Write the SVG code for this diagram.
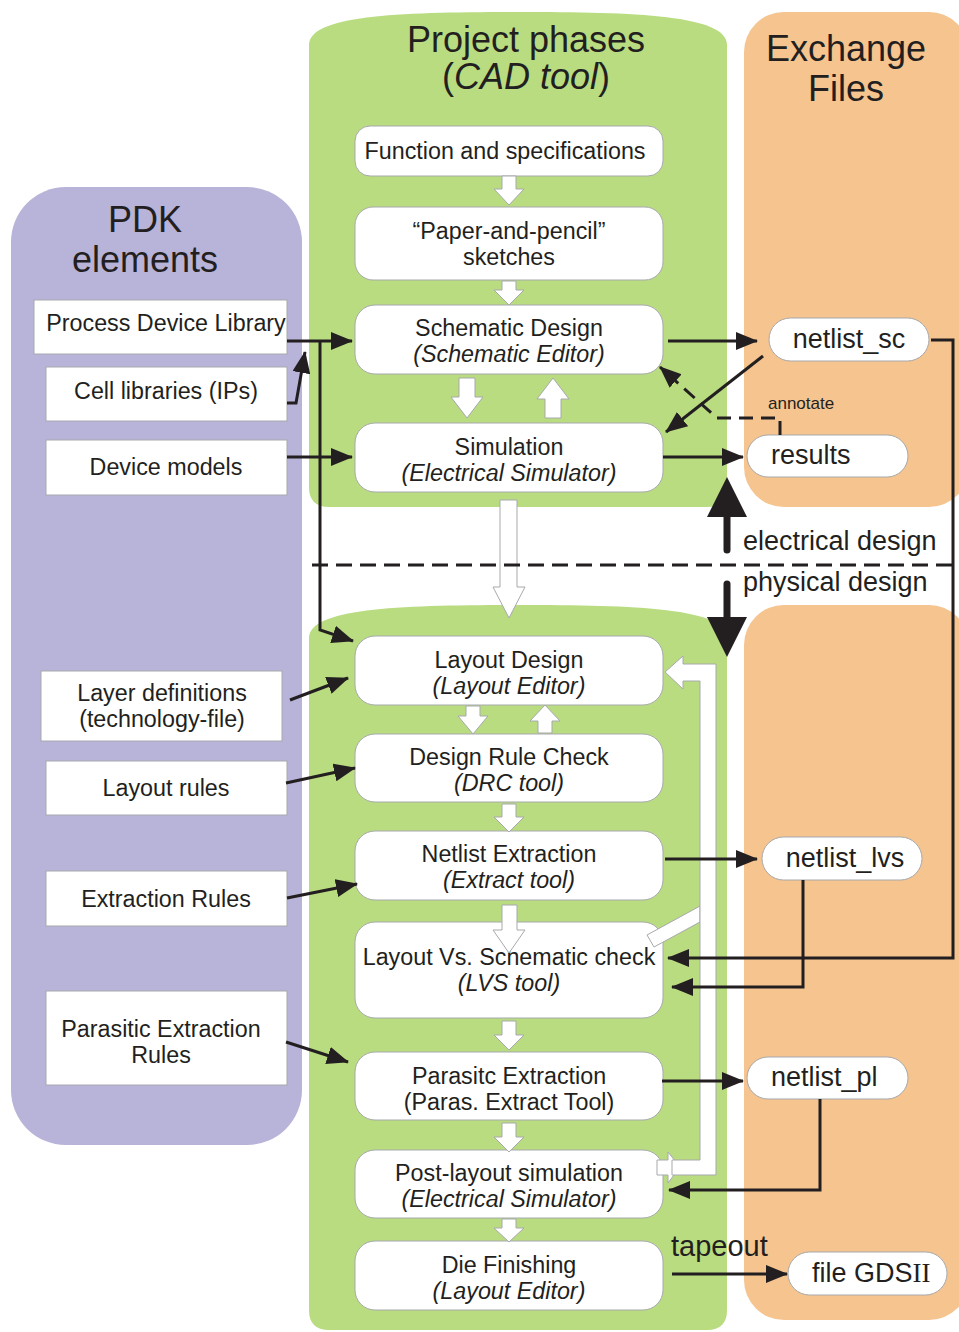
<svg xmlns="http://www.w3.org/2000/svg" width="959" height="1332" viewBox="0 0 959 1332">
<style>
text{font-family:"Liberation Sans",Arial,sans-serif;fill:#231f20}
.t{font-size:23.3px;text-anchor:middle}
.i{font-style:italic}
.h{font-size:36px;text-anchor:middle}
.n{font-size:27px}
.box{fill:#fff;stroke:#a7a9ac;stroke-width:1}
.blk{fill:#fff;stroke:#a7a9ac;stroke-width:1}
.ln{fill:none;stroke:#231f20;stroke-width:3}
.ar{fill:none;stroke:#231f20;stroke-width:3;marker-end:url(#ah)}
</style>
<defs>
<marker id="ah" markerUnits="userSpaceOnUse" markerWidth="22" markerHeight="18" viewBox="0 0 22 18" refX="21" refY="9" orient="auto">
<path d="M0,0 L22,9 L0,18 z" fill="#231f20"/>
</marker>
</defs>
<rect width="959" height="1332" fill="#fff"/>
<g id="panels">
<rect x="11" y="187" width="291" height="958" rx="55" fill="#b8b3d8"/>
<path d="M309,45 C309,15 400,12 518,12 C636,12 727,15 727,45 L727,487 Q727,507 707,507 L329,507 Q309,507 309,487 Z" fill="#b9dc80"/>
<path d="M309,638 C309,608 400,605 518,605 C636,605 727,608 727,638 L727,1310 Q727,1330 707,1330 L329,1330 Q309,1330 309,1310 Z" fill="#b9dc80"/>
<rect x="744" y="12" width="225" height="495" rx="40" fill="#f5c48f"/>
<rect x="744" y="605" width="225" height="715" rx="40" fill="#f5c48f"/>
</g>
<g id="titles">
<text class="h" x="526" y="52">Project phases</text>
<text class="h" x="526" y="89">(<tspan class="i">CAD tool</tspan>)</text>
<text class="h" x="846" y="61">Exchange</text>
<text class="h" x="846" y="101">Files</text>
<text class="h" x="145" y="232">PDK</text>
<text class="h" x="145" y="272">elements</text>
</g>
<g id="pdk">
<g id="pdl"><rect class="box" x="34" y="300" width="253" height="54"/><text class="t" x="166" y="331">Process Device Library</text></g>
<g id="cells"><rect class="box" x="46" y="367" width="241" height="54"/><text class="t" x="166" y="399">Cell libraries (IPs)</text></g>
<g id="models"><rect class="box" x="46" y="440" width="241" height="55"/><text class="t" x="166" y="475">Device models</text></g>
<g id="layerdef"><rect class="box" x="41" y="671" width="241" height="70"/><text class="t" x="162" y="701">Layer definitions</text><text class="t" x="162" y="727">(technology-file)</text></g>
<g id="layoutrules"><rect class="box" x="46" y="761" width="241" height="54"/><text class="t" x="166" y="796">Layout rules</text></g>
<g id="extrules"><rect class="box" x="46" y="871" width="241" height="55"/><text class="t" x="166" y="907">Extraction Rules</text></g>
<g id="parrules"><rect class="box" x="46" y="991" width="241" height="94"/><text class="t" x="161" y="1037">Parasitic Extraction</text><text class="t" x="161" y="1063">Rules</text></g>
</g>
<g id="phases">
<g id="func"><rect class="box" x="355" y="126" width="308" height="50" rx="15"/><text class="t" x="505" y="159">Function and specifications</text></g>
<g id="paper"><rect class="box" x="355" y="207" width="308" height="73" rx="18"/><text class="t" x="509" y="239">“Paper-and-pencil”</text><text class="t" x="509" y="265">sketches</text></g>
<g id="schem"><rect class="box" x="355" y="305" width="308" height="69" rx="20"/><text class="t" x="509" y="336">Schematic Design</text><text class="t i" x="509" y="362">(Schematic Editor)</text></g>
<g id="sim"><rect class="box" x="355" y="423" width="308" height="69" rx="20"/><text class="t" x="509" y="455">Simulation</text><text class="t i" x="509" y="481">(Electrical Simulator)</text></g>
<g id="layout"><rect class="box" x="355" y="636" width="308" height="69" rx="20"/><text class="t" x="509" y="668">Layout Design</text><text class="t i" x="509" y="694">(Layout Editor)</text></g>
<g id="drc"><rect class="box" x="355" y="734" width="308" height="68" rx="20"/><text class="t" x="509" y="765">Design Rule Check</text><text class="t i" x="509" y="791">(DRC tool)</text></g>
<g id="extract"><rect class="box" x="355" y="831" width="308" height="69" rx="20"/><text class="t" x="509" y="862">Netlist Extraction</text><text class="t i" x="509" y="888">(Extract tool)</text></g>
<g id="lvs"><rect class="box" x="355" y="922" width="308" height="96" rx="20"/><text class="t" x="509" y="965">Layout Vs. Schematic check</text><text class="t i" x="509" y="991">(LVS tool)</text></g>
<g id="parasitic"><rect class="box" x="355" y="1052" width="308" height="68" rx="20"/><text class="t" x="509" y="1084">Parasitc Extraction</text><text class="t" x="509" y="1110">(Paras. Extract Tool)</text></g>
<g id="postsim"><rect class="box" x="355" y="1150" width="308" height="68" rx="20"/><text class="t" x="509" y="1181">Post-layout simulation</text><text class="t i" x="509" y="1207">(Electrical Simulator)</text></g>
<g id="die"><rect class="box" x="355" y="1241" width="308" height="69" rx="20"/><text class="t" x="509" y="1273">Die Finishing</text><text class="t i" x="509" y="1299">(Layout Editor)</text></g>
</g>
<g id="files">
<g id="netlist_sc"><rect class="box" x="769" y="318" width="160" height="43" rx="21.5"/><text class="n" x="849" y="348" text-anchor="middle">netlist_sc</text></g>
<g id="results"><rect class="box" x="747" y="435" width="161" height="42" rx="21"/><text class="n" x="771" y="464">results</text></g>
<g id="netlist_lvs"><rect class="box" x="762" y="837" width="160" height="43" rx="21.5"/><text class="n" x="845" y="867" text-anchor="middle">netlist_lvs</text></g>
<g id="netlist_pl"><rect class="box" x="747" y="1057" width="161" height="42" rx="21"/><text class="n" x="771" y="1086">netlist_pl</text></g>
<g id="gdsii"><rect class="box" x="788" y="1252" width="159" height="43" rx="21.5"/><text class="n" x="812" y="1282">file GDS<tspan font-family="Liberation Serif, serif">II</tspan></text></g>
</g>
<g id="block-arrows">
<polygon class="blk" points="502,176 516,176 516,189 524,189 509,205 494,189 502,189"/>
<polygon class="blk" points="502,281 516,281 516,290 524,290 509,305 494,290 502,290"/>
<polygon class="blk" points="459,378 475,378 475,397 483,397 467,418 451,397 459,397"/>
<polygon class="blk" points="545,418 561,418 561,399 569,399 553,378 537,399 545,399"/>
<polygon class="blk" points="500,500 517,500 517,587 525,587 509,618 493,587 500,587"/>
<polygon class="blk" points="466,706 480,706 480,716 488,716 473,734 458,716 466,716"/>
<polygon class="blk" points="538,733 552,733 552,721 560,721 545,705 530,721 538,721"/>
<polygon class="blk" points="502,804 516,804 516,817 524,817 509,832 494,817 502,817"/>
<polygon class="blk" points="502,905 517,905 517,930 525,930 509,953 493,930 502,930"/>
<polygon class="blk" points="502,1021 516,1021 516,1035 524,1035 509,1050 494,1035 502,1035"/>
<polygon class="blk" points="502,1123 516,1123 516,1137 524,1137 509,1152 494,1137 502,1137"/>
<polygon class="blk" points="502,1219 516,1219 516,1228 524,1228 509,1242 494,1228 502,1228"/>
<polygon class="blk" points="647,935 700,906 700,922 654,947"/>
<polygon class="blk" points="657,1160 668,1160 668,1152 680,1167 668,1183 668,1175 657,1175"/>
<polygon class="blk" points="665,672 683,656 683,664 716,664 716,1175 672,1175 672,1160 700,1160 700,681 683,681 683,689"/>
</g>
<g id="connectors">
<polyline class="ar" points="287,341 352,341"/>
<polyline class="ar" points="320,341 320,630 353,641"/>
<polyline class="ar" points="287,403 296,403 305,352"/>
<polyline class="ar" points="287,457 352,457"/>
<polyline class="ar" points="668,341 757,341"/>
<polyline class="ar" points="763,356 666,432"/>
<polyline class="ar" points="780,435 780,418 717,418 660,367" stroke-dasharray="14,8"/>
<polyline class="ar" points="663,457 743,457"/>
<polyline class="ar" points="931,340 953,340 953,958 668,958"/>
<polyline class="ar" points="665,859 757,859"/>
<polyline class="ar" points="803,880 803,987 672,987"/>
<polyline class="ar" points="662,1081 743,1081"/>
<polyline class="ar" points="820,1099 820,1190 669,1190"/>
<polyline class="ar" points="672,1274 787,1274"/>
<polyline class="ar" points="290,700 348,678"/>
<polyline class="ar" points="286,783 355,768"/>
<polyline class="ar" points="287,898 357,884"/>
<polyline class="ar" points="286,1042 348,1062"/>
<line x1="312" y1="565" x2="953" y2="565" stroke="#231f20" stroke-width="3" stroke-dasharray="16,8"/>
<line x1="727" y1="550" x2="727" y2="512" stroke="#231f20" stroke-width="7" stroke-linecap="round"/>
<polygon points="707,517 747,517 727,477" fill="#231f20"/>
<line x1="727" y1="584" x2="727" y2="620" stroke="#231f20" stroke-width="7" stroke-linecap="round"/>
<polygon points="707,617 747,617 727,657" fill="#231f20"/>
</g>
<g id="labels">
<text x="768" y="409" font-size="17">annotate</text>
<text class="n" x="743" y="550">electrical design</text>
<text class="n" x="743" y="591">physical design</text>
<text x="671" y="1256" font-size="29">tapeout</text>
</g>
</svg>
